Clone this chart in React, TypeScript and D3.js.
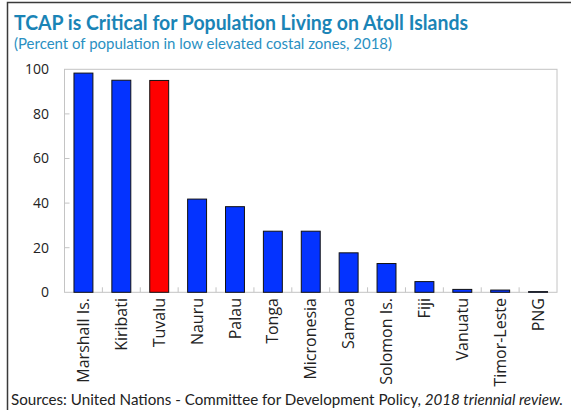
import React from "react";
import * as d3 from "d3";

const categories = ["Marshall Is.", "Kiribati", "Tuvalu", "Nauru", "Palau", "Tonga", "Micronesia", "Samoa", "Solomon Is.", "Fiji", "Vanuatu", "Timor-Leste", "PNG"];
const values = [98.3, 95.1, 95.0, 41.8, 38.4, 27.4, 27.4, 17.7, 12.9, 4.8, 1.3, 1.0, 0.3];
const highlighted = ["Tuvalu"];
const yTicks = [0, 20, 40, 60, 80, 100];

const W = 571;
const H = 410;
const left = 64.5;
const right = 557;
const top = 69.3;
const bottom = 292.3;
const FONT = "Lato, 'Open Sans', sans-serif";
const AXIS_FONT = "'Open Sans', sans-serif";

export default function App() {
  const x = d3.scaleBand<string>().domain(categories).range([left, right]).paddingInner(0.5).paddingOuter(0.25);
  const y = d3.scaleLinear().domain([0, 100]).range([bottom, top]);
  const step = x.step();
  const boundaries = d3.range(1, categories.length).map((i) => left + i * step);

  return (
    <svg width={W} height={H} style={{ position: "absolute", left: 0, top: 0, background: "#fff" }} fontFamily={FONT}>
      <rect x={0} y={0} width={W} height={H} fill="#fff" />
      <path d={`M7.5,${H} V2.5 H${W}`} fill="none" stroke="#3a3a3a" strokeWidth={1.5} />
      <text x={14} y={30} fontSize={20} fontWeight={700} fill="#1a84b6" textLength={454} lengthAdjust="spacingAndGlyphs">
        TCAP is Critical for Population Living on Atoll Islands
      </text>
      <text x={14} y={49} fontSize={15} fill="#2a90c2" textLength={378} lengthAdjust="spacingAndGlyphs">
        (Percent of population in low elevated costal zones, 2018)
      </text>

      <rect x={left} y={top} width={right - left} height={bottom - top} fill="none" stroke="#c4c4c4" strokeWidth={1} />
      {yTicks.map((t) => (
        <g key={t}>
          {t > 0 && t < 100 && <line x1={left} x2={left + 5} y1={y(t)} y2={y(t)} stroke="#c4c4c4" />}
          <text x={49} y={y(t)} dy="0.35em" textAnchor="end" fontSize={14} fontFamily={AXIS_FONT} fill="#222">
            {t}
          </text>
        </g>
      ))}
      {boundaries.map((b, i) => (
        <line key={i} x1={b} x2={b} y1={bottom} y2={bottom - 5} stroke="#c4c4c4" />
      ))}
      {categories.map((c, i) => {
        const h = Math.max(bottom - y(values[i]), 0.5);
        return (
          <rect
            key={c}
            x={x(c)}
            y={bottom - h}
            width={x.bandwidth()}
            height={h}
            fill={highlighted.includes(c) ? "#ff0000" : "#0433ff"}
            stroke="#111"
            strokeWidth={1}
          />
        );
      })}
      {categories.map((c) => (
        <text
          key={c}
          transform={`translate(${(x(c) as number) + x.bandwidth() / 2},298) rotate(-90)`}
          textAnchor="end"
          dy="0.35em"
          fontSize={16}
          fontFamily={AXIS_FONT}
          fill="#222"
        >
          {c}
        </text>
      ))}
      <text x={11} y={405} fontSize={15} fill="#222" textLength={552} lengthAdjust="spacingAndGlyphs">
        Sources: United Nations - Committee for Development Policy, <tspan fontStyle="italic">2018 triennial review.</tspan>
      </text>
    </svg>
  );
}
